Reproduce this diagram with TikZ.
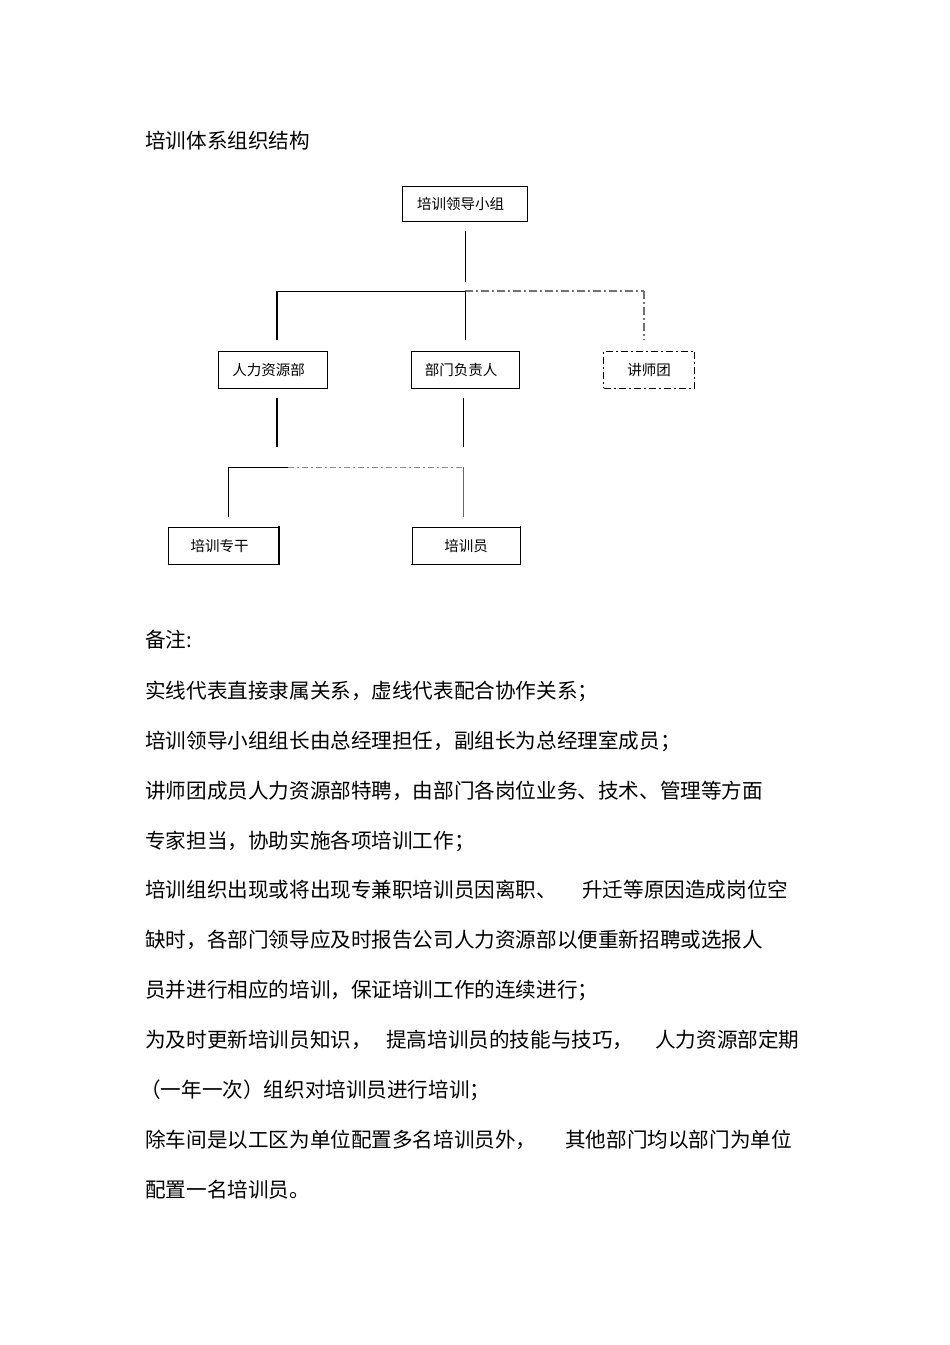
\documentclass[tikz,border=0pt]{standalone}
\usepackage{fontspec}
\setmainfont{Noto Sans CJK SC}
\begin{document}
\begin{tikzpicture}[x=1pt,y=-1pt,
  box/.style={draw=black,line width=0.9pt,minimum width=#1,minimum height=37pt,inner sep=0pt,font=\fontsize{14.5}{17}\selectfont},
  dbox/.style={box=#1,dash pattern=on 7pt off 3pt on 2pt off 3pt},
  solidln/.style={line width=0.9pt,black},
  thickln/.style={line width=2pt,black},
  ddln/.style={line width=1.1pt,black!55,dash pattern=on 8pt off 3pt on 2pt off 3pt},
  ddlnb/.style={line width=0.9pt,black!45,dash pattern=on 6pt off 3pt on 2pt off 3pt},
  txt/.style={anchor=west,inner sep=0pt,font=\fontsize{20.6}{24}\selectfont}]
\useasboundingbox (0,0) rectangle (950,1345);
\fill[white] (0,0) rectangle (950,1345);

% title
\node[txt] (title) at (145,141) {培训体系组织结构};

% boxes
\node[box=125pt,minimum height=35pt] (top) at (464.5,203.5) {培训领导小组\hspace*{8pt}};
\node[box=109pt] (hr) at (272.5,369.5) {人力资源部\hspace*{8pt}};
\node[box=108pt] (dept) at (465,369.5) {部门负责人\hspace*{8pt}};
\node[dbox=91pt] (lect) at (649,369.5) {讲师团};
\node[box=110pt] (spec) at (223.5,545.5) {培训专干\hspace*{8pt}};
\node[box=108pt] (trainer) at (466,545.5) {培训员};
\draw[line width=1.8pt] ([xshift=-0.5pt]spec.south west) -- (spec.south east) -- ([yshift=0.5pt]spec.north east);
\draw[line width=1.8pt] ([xshift=-0.5pt]trainer.south west) -- (trainer.south east) -- ([yshift=0.5pt]trainer.north east);

% junction coordinates
\coordinate (a0) at (465,282);
\coordinate (a1) at (465,291);
\coordinate (aL) at (277,291);
\coordinate (aR) at (644,291);
\coordinate (aLb) at (277,340);
\coordinate (aMb) at (465,340);
\coordinate (aRb) at (644,340);
\coordinate (b0) at (277,447);
\coordinate (b1) at (463,447);
\coordinate (bL) at (228,467);
\coordinate (bS) at (288,467);
\coordinate (bR) at (463,467);
\coordinate (bLb) at (228,517);
\coordinate (bRb) at (463,517);

% upper connectors
\draw[solidln] ([yshift=-10pt]top.south -| a0) -- (a0);
\draw[solidln] (aL) -- (a1);
\draw[ddln] (a1) -- (aR);
\draw[thickln] (aL) -- (aLb);
\draw[solidln] (a1) -- (aMb);
\draw[ddln] (aR) -- (aRb);

% lower connectors
\draw[thickln] ([yshift=-10pt]hr.south -| aL) -- (b0);
\draw[solidln] ([yshift=-10pt]dept.south -| bR) -- (b1);
\draw[solidln] (bL) -- (bS);
\draw[ddlnb] (bS) -- (bR);
\draw[solidln] (bL) -- (bLb);
\draw[line width=0.9pt,black!60] (bR) -- (bRb);

% notes
\node[txt] (n0) at (145,640) {备注:};
\node[txt] (n1) at (145,691) {实线代表直接隶属关系，虚线代表配合协作关系；};
\node[txt] (n2) at (145,741) {培训领导小组组长由总经理担任，副组长为总经理室成员；};
\node[txt] (n3) at (145,791) {讲师团成员人力资源部特聘，由部门各岗位业务、技术、管理等方面};
\node[txt] (n4) at (145,841) {专家担当，协助实施各项培训工作；};
\node[txt] (n5a) at (145,890) {培训组织出现或将出现专兼职培训员因离职、};
\node[txt] (n5b) at (582,890) {升迁等原因造成岗位空};
\node[txt] (n6) at (145,940) {缺时，各部门领导应及时报告公司人力资源部以便重新招聘或选报人};
\node[txt] (n7) at (145,990) {员并进行相应的培训，保证培训工作的连续进行；};
\node[txt] (n8a) at (145,1040) {为及时更新培训员知识，};
\node[txt] (n8b) at (386,1040) {提高培训员的技能与技巧，};
\node[txt] (n8c) at (655,1040) {人力资源部定期};
\node[txt] (n9) at (140,1090) {（一年一次）组织对培训员进行培训；};
\node[txt] (n10a) at (145,1140) {除车间是以工区为单位配置多名培训员外，};
\node[txt] (n10b) at (565,1140) {其他部门均以部门为单位};
\node[txt] (n11) at (145,1190) {配置一名培训员。};
\end{tikzpicture}
\end{document}
